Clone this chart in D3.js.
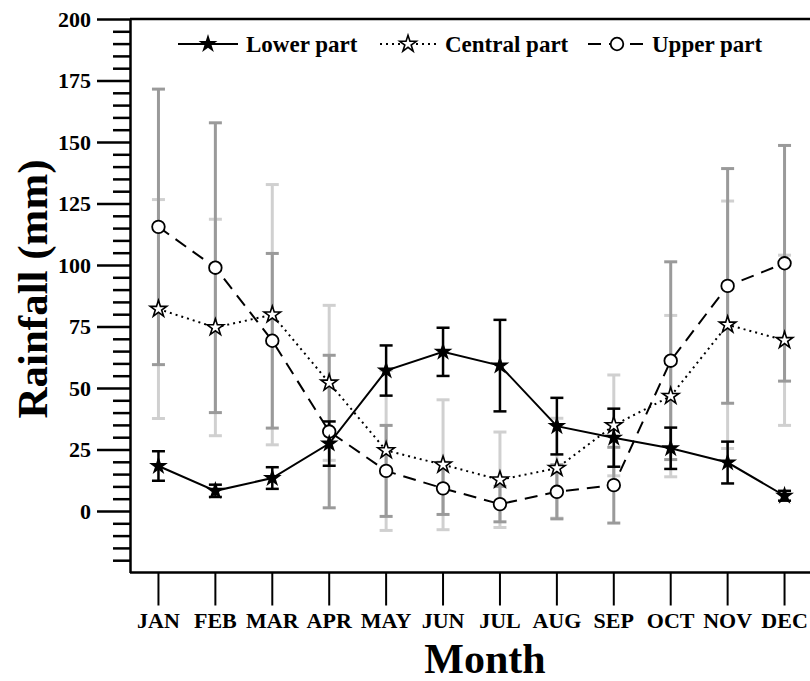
<!DOCTYPE html>
<html>
<head>
<meta charset="utf-8">
<script src="https://cdn.jsdelivr.net/npm/d3@7"></script>
<style>
  html, body { margin: 0; padding: 0; background: #fff; }
  svg { display: block; }
  text { font-family: "Liberation Serif", "Times New Roman", serif; font-weight: bold; }
</style>
</head>
<body>
<svg id="chart" width="810" height="681"></svg>
<script>
const months = ["JAN","FEB","MAR","APR","MAY","JUN","JUL","AUG","SEP","OCT","NOV","DEC"];
const lowerMean   = [18.3, 8.2, 13.4, 27.4, 57.1, 64.7, 59.1, 34.5, 29.8, 25.5, 19.7, 6.2];
const lowerErr    = [6.0, 2.5, 4.4, 9.0, 10.2, 9.8, 18.6, 11.5, 11.8, 8.4, 8.5, 2.0];
const centralMean = [82.1, 74.6, 79.8, 52.1, 24.6, 18.8, 12.7, 17.4, 34.8, 46.7, 75.7, 69.4];
const centralErr  = [44.5, 44.0, 52.9, 31.5, 32.5, 26.4, 19.4, 20.3, 20.5, 32.8, 50.3, 34.6];
const upperMean   = [115.5, 98.9, 69.2, 32.3, 16.3, 9.2, 2.8, 7.8, 10.5, 61.1, 91.5, 100.7];
const upperErr    = [56.0, 58.9, 35.5, 31.0, 18.5, 10.6, 7.2, 11.0, 15.4, 40.2, 47.7, 47.9];
const yMajorTicks = [0, 25, 50, 75, 100, 125, 150, 175, 200];
const seriesNames = ["Lower part", "Central part", "Upper part"];

(function () {
const svg = d3.select("#chart");
const pLeft = 130, pRight = 813, pTop = 19, pBottom = 572.5;

const x = d3.scaleBand().domain(months).range([pLeft, pRight]).paddingInner(0).paddingOuter(0);
const cx = m => x(m) + x.bandwidth() / 2;
const y = d3.scaleLinear().domain([-25, 200]).range([pBottom, pTop]);
const fontFam = '"Liberation Serif", "Times New Roman", serif';

// Frame top line
svg.append("line").attr("x1", pLeft).attr("x2", 830).attr("y1", pTop).attr("y2", pTop)
  .attr("stroke", "#000").attr("stroke-width", 2.5);

// Minor y ticks
const minorTicks = d3.range(-20, 200, 5).filter(v => v % 25 !== 0);
svg.append("g").attr("transform", `translate(${pLeft},0)`)
  .call(d3.axisLeft(y).tickValues(minorTicks).tickSize(17).tickSizeOuter(0).tickFormat(""))
  .call(g => g.select(".domain").remove())
  .call(g => g.selectAll("line").attr("stroke-width", 2.5));

// Major y axis
svg.append("g").attr("transform", `translate(${pLeft},0)`)
  .call(d3.axisLeft(y).tickValues(yMajorTicks).tickSize(33).tickSizeOuter(0).tickPadding(6))
  .call(g => g.select(".domain").attr("stroke-width", 2.5))
  .call(g => g.selectAll("line").attr("stroke-width", 2.5))
  .call(g => g.selectAll("text").attr("font-size", 22).attr("fill", "#000")
      .style("font-family", fontFam).style("font-weight", "bold"));

// X axis
svg.append("g").attr("transform", `translate(0,${pBottom})`)
  .call(d3.axisBottom(x).tickSize(33).tickSizeOuter(0).tickPadding(7))
  .call(g => g.select(".domain").attr("d", `M${pLeft},0H830`).attr("stroke-width", 2.5))
  .call(g => g.selectAll("line").attr("stroke-width", 2))
  .call(g => g.selectAll("text").attr("font-size", 22).attr("fill", "#000")
      .style("font-family", fontFam).style("font-weight", "bold"));

// Axis titles
svg.append("text").attr("x", 485).attr("y", 673).attr("text-anchor", "middle")
  .attr("font-size", 42).text("Month");
svg.append("text").attr("transform", "translate(47,289) rotate(-90)").attr("text-anchor", "middle")
  .attr("font-size", 43).text("Rainfall (mm)");

// Error bars
function errorBars(mean, err, color, width) {
  const g = svg.append("g").attr("stroke", color).attr("stroke-width", width);
  months.forEach((m, i) => {
    const xc = cx(m), hi = y(mean[i] + err[i]), lo = y(mean[i] - err[i]);
    g.append("line").attr("x1", xc).attr("x2", xc).attr("y1", hi).attr("y2", lo);
    g.append("line").attr("x1", xc - 6.5).attr("x2", xc + 6.5).attr("y1", hi).attr("y2", hi);
    g.append("line").attr("x1", xc - 6.5).attr("x2", xc + 6.5).attr("y1", lo).attr("y2", lo);
  });
}
errorBars(centralMean, centralErr, "#d0d0d0", 3);
errorBars(upperMean, upperErr, "#9a9a9a", 3);
errorBars(lowerMean, lowerErr, "#000", 2.5);

// Lines
const line = d3.line().x((d, i) => cx(months[i])).y(d => y(d));
svg.append("path").datum(centralMean).attr("d", line).attr("fill", "none")
  .attr("stroke", "#000").attr("stroke-width", 2).attr("stroke-dasharray", "2,4");
svg.append("path").datum(upperMean).attr("d", line).attr("fill", "none")
  .attr("stroke", "#000").attr("stroke-width", 2).attr("stroke-dasharray", "13,8");
svg.append("path").datum(lowerMean).attr("d", line).attr("fill", "none")
  .attr("stroke", "#000").attr("stroke-width", 2);

// Markers
const starFilled = d3.symbol().type(d3.symbolStar).size(110);
const starHollow = d3.symbol().type(d3.symbolStar).size(85);
svg.append("g").selectAll("path").data(centralMean).join("path")
  .attr("transform", (d, i) => `translate(${cx(months[i])},${y(d)})`)
  .attr("d", starHollow).attr("fill", "#fff").attr("stroke", "#000").attr("stroke-width", 1.6);
svg.append("g").selectAll("circle").data(upperMean).join("circle")
  .attr("cx", (d, i) => cx(months[i])).attr("cy", d => y(d)).attr("r", 6.3)
  .attr("fill", "#fff").attr("stroke", "#000").attr("stroke-width", 1.8);
svg.append("g").selectAll("path").data(lowerMean).join("path")
  .attr("transform", (d, i) => `translate(${cx(months[i])},${y(d)})`)
  .attr("d", starFilled).attr("fill", "#000");

// Legend
const legendY = 44;
const legendItems = [
  { name: seriesNames[0], x0: 178, x1: 238, dash: null, marker: "starFilled", tx: 246 },
  { name: seriesNames[1], x0: 380, x1: 436, dash: "2,4", marker: "starHollow", tx: 445 },
  { name: seriesNames[2], x0: 588, x1: 646, dash: "13,8", marker: "circle", tx: 652 }
];
legendItems.forEach(it => {
  const mx = (it.x0 + it.x1) / 2;
  svg.append("line").attr("x1", it.x0).attr("x2", it.x1).attr("y1", legendY).attr("y2", legendY)
    .attr("stroke", "#000").attr("stroke-width", 2).attr("stroke-dasharray", it.dash);
  if (it.marker === "starFilled") {
    svg.append("path").attr("transform", `translate(${mx},${legendY})`).attr("d", starFilled).attr("fill", "#000");
  } else if (it.marker === "starHollow") {
    svg.append("path").attr("transform", `translate(${mx},${legendY})`).attr("d", starHollow)
      .attr("fill", "#fff").attr("stroke", "#000").attr("stroke-width", 1.6);
  } else {
    svg.append("circle").attr("cx", mx).attr("cy", legendY).attr("r", 6.3)
      .attr("fill", "#fff").attr("stroke", "#000").attr("stroke-width", 1.8);
  }
  svg.append("text").attr("x", it.tx).attr("y", legendY + 8).attr("font-size", 23).text(it.name);
});
})();
</script>
</body>
</html>
